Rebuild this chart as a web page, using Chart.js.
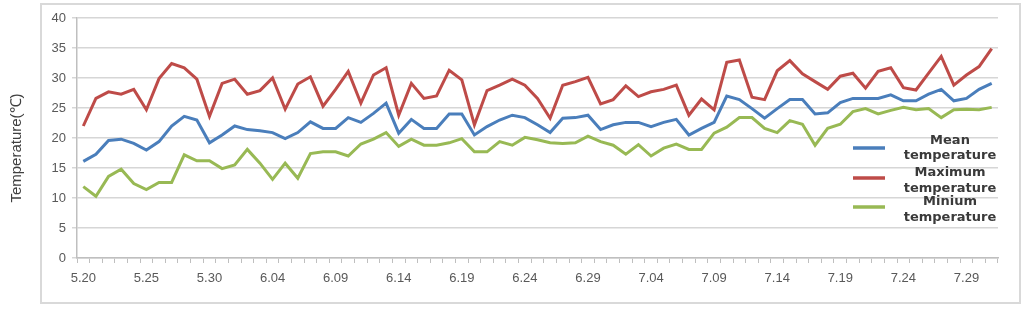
<!DOCTYPE html>
<html>
<head>
<meta charset="utf-8">
<script src="https://cdn.jsdelivr.net/npm/chart.js@4/dist/chart.umd.min.js"></script>
<style>
html,body{margin:0;padding:0;background:#fff;}
canvas{display:block;}
</style>
</head>
<body>
<canvas id="c" width="1031" height="312"></canvas>
<script>
const categories = [
 "5.20","5.21","5.22","5.23","5.24","5.25","5.26","5.27","5.28","5.29","5.30","5.31",
 "6.01","6.02","6.03","6.04","6.05","6.06","6.07","6.08","6.09","6.10","6.11","6.12","6.13","6.14","6.15",
 "6.16","6.17","6.18","6.19","6.20","6.21","6.22","6.23","6.24","6.25","6.26","6.27","6.28","6.29","6.30",
 "7.01","7.02","7.03","7.04","7.05","7.06","7.07","7.08","7.09","7.10","7.11","7.12","7.13","7.14","7.15",
 "7.16","7.17","7.18","7.19","7.20","7.21","7.22","7.23","7.24","7.25","7.26","7.27","7.28","7.29","7.30","7.31"
];
const tickLabels = ["5.20","5.25","5.30","6.04","6.09","6.14","6.19","6.24","6.29","7.04","7.09","7.14","7.19","7.24","7.29"];
const yTicks = [0,5,10,15,20,25,30,35,40];

const meanTemp = [
 16.1,17.3,19.6,19.8,19.1,18.0,19.4,22.0,23.6,23.0,
 19.2,20.5,22.0,21.4,21.2,20.9,19.9,20.9,22.7,21.6,
 21.6,23.4,22.6,24.1,25.8,20.8,23.1,21.6,21.6,24.0,
 24.0,20.5,21.9,23.0,23.8,23.4,22.2,20.9,23.3,23.4,
 23.8,21.4,22.2,22.6,22.6,21.9,22.6,23.1,20.5,21.6,
 22.6,27.0,26.4,24.9,23.3,24.9,26.4,26.4,24.0,24.2,
 25.9,26.6,26.6,26.6,27.2,26.2,26.2,27.3,28.1,26.2,
 26.6,28.1,29.1
];
const maxTemp = [
 22.0,26.6,27.7,27.3,28.1,24.7,29.9,32.4,31.7,29.8,
 23.6,29.1,29.8,27.3,27.9,30.0,24.8,29.0,30.2,25.3,
 28.1,31.1,25.8,30.5,31.7,23.8,29.1,26.6,27.0,31.3,
 29.7,22.2,27.9,28.8,29.8,28.8,26.6,23.3,28.8,29.4,
 30.1,25.7,26.4,28.7,26.9,27.7,28.1,28.8,23.8,26.5,
 24.7,32.6,33.0,26.8,26.4,31.2,32.9,30.7,29.4,28.1,
 30.3,30.8,28.3,31.1,31.7,28.4,28.0,30.8,33.6,28.8,
 30.5,31.9,34.9
];
const minTemp = [
 11.9,10.3,13.6,14.8,12.4,11.4,12.6,12.6,17.2,16.2,
 16.2,14.9,15.5,18.1,15.8,13.1,15.8,13.3,17.4,17.7,
 17.7,17.0,19.0,19.8,20.9,18.6,19.8,18.8,18.8,19.2,
 19.9,17.7,17.7,19.4,18.8,20.1,19.7,19.2,19.1,19.2,
 20.3,19.4,18.8,17.3,18.9,17.0,18.3,19.0,18.1,18.1,
 20.8,21.8,23.4,23.4,21.6,20.9,22.9,22.3,18.8,21.6,
 22.3,24.4,24.9,24.0,24.6,25.1,24.7,24.9,23.4,24.7,
 24.8,24.7,25.1
];
const seriesNames = ["Mean temperature","Maximum temperature","Minium temperature"];
const seriesColors = ["#4a7ebb","#be4b48","#98b954"];
const yTitle = "Temperature(\u2103)";

const FONT = "'Liberation Sans', Arial, sans-serif";

const frameAndTitle = {
  id:'frameAndTitle',
  beforeDraw(chart){
    const ctx = chart.ctx;
    ctx.save();
    ctx.fillStyle = '#fff';
    ctx.fillRect(0,0,chart.width,chart.height);
    ctx.strokeStyle = '#d9d9d9';
    ctx.lineWidth = 2;
    ctx.strokeRect(41,4,979,299);
    ctx.restore();
  },
  afterDraw(chart){
    const ctx = chart.ctx;
    ctx.save();
    ctx.translate(17,148);
    ctx.rotate(-Math.PI/2);
    ctx.fillStyle = '#404040';
    ctx.font = "15px " + FONT;
    ctx.textAlign = 'center';
    ctx.textBaseline = 'middle';
    ctx.fillText(yTitle,0,0);
    ctx.restore();
  }
};

const insideLegend = {
  id:'insideLegend',
  afterDatasetsDraw(chart){
    const ctx = chart.ctx;
    const rows = [
      {sy:148, ty:[141,156]},
      {sy:178, ty:[173,189]},
      {sy:207, ty:[202,218]}
    ];
    ctx.save();
    chart.data.datasets.forEach((ds,i)=>{
      const r = rows[i];
      ctx.strokeStyle = ds.borderColor;
      ctx.lineWidth = 3.5;
      ctx.beginPath();
      ctx.moveTo(853,r.sy);
      ctx.lineTo(885,r.sy);
      ctx.stroke();
      const sp = ds.label.indexOf(' ');
      const parts = [ds.label.slice(0,sp), ds.label.slice(sp+1)];
      ctx.fillStyle = '#3a3a3a';
      ctx.font = "bold 13px 'DejaVu Sans', sans-serif";
      ctx.textAlign = 'center';
      ctx.textBaseline = 'middle';
      ctx.fillText(parts[0],950,r.ty[0]);
      ctx.fillText(parts[1],950,r.ty[1]);
    });
    ctx.restore();
  }
};

const datasets = [meanTemp,maxTemp,minTemp].map((d,i)=>({
  label:seriesNames[i],
  data:d,
  borderColor:seriesColors[i],
  backgroundColor:seriesColors[i],
  borderWidth:3,
  pointRadius:0,
  tension:0,
  fill:false
}));

new Chart(document.getElementById('c'),{
  type:'line',
  data:{labels:categories, datasets},
  options:{
    responsive:false,
    animation:false,
    devicePixelRatio:1,
    layout:{padding:{left:0,right:33,top:18,bottom:0}},
    plugins:{legend:{display:false}, tooltip:{enabled:false}},
    scales:{
      x:{
        offset:true,
        grid:{offset:true, drawOnChartArea:false, drawTicks:true, tickLength:5, color:'#bfbfbf', lineWidth:1},
        border:{color:'#bfbfbf', width:1.5},
        ticks:{autoSkip:false, maxRotation:0, minRotation:0, padding:8, color:'#595959',
          font:{size:13, family:FONT},
          callback:(v,i)=> tickLabels.includes(categories[i]) ? categories[i] : ''},
        afterFit:(s)=>{ s.height = 54; }
      },
      y:{
        min:yTicks[0], max:yTicks[yTicks.length-1],
        afterBuildTicks:(s)=>{ s.ticks = yTicks.map(v=>({value:v})); },
        grid:{color:'#d6d6d6', lineWidth:1.5, tickLength:5, drawTicks:true},
        border:{color:'#bfbfbf', width:1.5},
        ticks:{padding:6, color:'#595959', font:{size:13, family:FONT}},
        afterFit:(s)=>{ s.width = 77; }
      }
    }
  },
  plugins:[frameAndTitle, insideLegend]
});
</script>
</body>
</html>
